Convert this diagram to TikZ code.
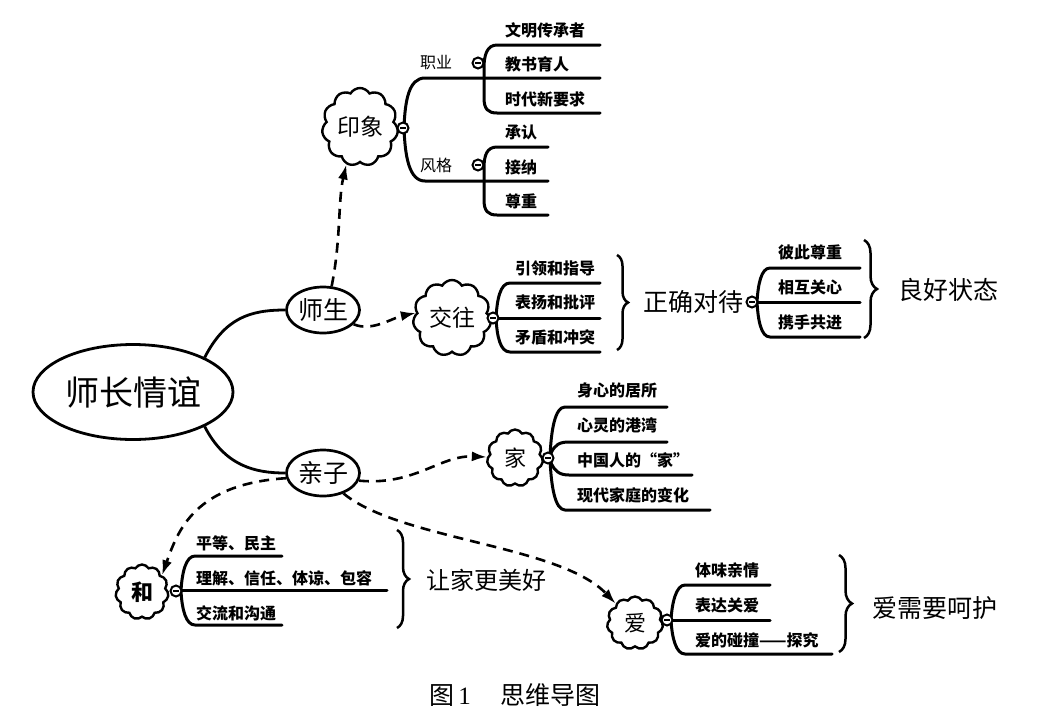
\documentclass[tikz,border=0pt]{standalone}
\usepackage{fontspec}
\setmainfont{Liberation Serif}
\newfontfamily\cjk{Noto Sans CJK SC}
\usetikzlibrary{shapes.geometric,shapes.symbols,decorations.pathreplacing,arrows.meta}
\newcommand\myfs[1]{\fontsize{#1}{#1}\selectfont}
\begin{document}
\begin{tikzpicture}[x=1pt,y=-1pt,
  br/.style={line width=3pt, line cap=round, line join=round},
  conn/.style={line width=2.8pt},
  dasharr/.style={line width=2.6pt, dash pattern=on 10pt off 7pt, -{Latex[length=15pt,width=10pt]}},
  mainell/.style={ellipse, draw, line width=2.8pt, minimum width=200pt, minimum height=95pt, inner sep=0pt, font=\cjk\myfs{34}},
  subell/.style={ellipse, draw, line width=2.7pt, minimum width=73pt, minimum height=46pt, inner sep=0pt, font=\cjk\myfs{25}},
  cloudn/.style={cloud, cloud puffs=11, cloud puff arc=120, aspect=1, draw, line width=2.4pt, inner sep=0pt, fill=white},
  mk/.style={circle, draw, line width=2pt, minimum size=11pt, inner sep=0pt, fill=white,
    path picture={\draw[line width=1.5pt] ([xshift=-2.6pt]path picture bounding box.center) -- ([xshift=2.6pt]path picture bounding box.center);}},
  leaf/.style={anchor=west, inner sep=0pt, font=\cjk\bfseries\myfs{16}},
  lab/.style={inner sep=0pt, font=\cjk\myfs{16}},
  big/.style={inner sep=0pt, font=\cjk\myfs{25}},
  brc/.style={line width=2.5pt, decorate, decoration={brace, amplitude=#1}}
]
\useasboundingbox (0,0) rectangle (1044,715);

% ---------- main nodes ----------
\node[mainell] (root) at (133,392) {师长情谊};
\node[subell] (ss) at (323,310) {师生};
\node[subell] (qz) at (323,473) {亲子};
\draw[conn] (root.north east) .. controls (225,318) and (250,310) .. (ss.west);
\draw[conn] (root.south east) .. controls (225,466) and (255,473) .. (qz.west);

% ---------- 印象 ----------
\node[cloudn, minimum width=76pt, minimum height=78pt, font=\cjk\myfs{23}] (yx) at (360,127) {印象};
\draw[br] (600,78) -- (425,78) .. controls (409,78) and (405,100) .. (404,128) .. controls (405,156) and (409,181) .. (425,181) -- (548,181);
% 职业
\draw[br] (600,45) -- (497,45) .. controls (487,45) and (484,55) .. (484,68) -- (484,98) .. controls (484,109) and (488,113) .. (497,113) -- (600,113);
\node[lab] (zy) at (436,63) {职业};
\node[mk] (mzy) at (478,63) {};
\node[leaf] (a1) at (505,30) {文明传承者};
\node[leaf] (a2) at (505,64) {教书育人};
\node[leaf] (a3) at (505,99) {时代新要求};
% 风格
\draw[br] (548,147) -- (497,147) .. controls (487,147) and (484,155) .. (484,168) -- (484,200) .. controls (484,211) and (488,215) .. (497,215) -- (548,215);
\node[lab] (fg) at (436,165) {风格};
\node[mk] (mfg) at (478,165) {};
\node[leaf] (b1) at (505,132) {承认};
\node[leaf] (b2) at (505,167) {接纳};
\node[leaf] (b3) at (505,201) {尊重};
\node[mk] (myx) at (403,128) {};

% ---------- 交往 ----------
\node[cloudn, minimum width=78pt, minimum height=76pt, font=\cjk\myfs{23}] (jw) at (452,318) {交往};
\draw[br] (600,283) -- (510,283) .. controls (500,283) and (497,300) .. (496,318) .. controls (497,336) and (500,352) .. (510,352) -- (600,352);
\draw[br] (493,318) -- (600,318);
\node[mk] (mjw) at (493,318) {};
\node[leaf] (c1) at (515,268) {引领和指导};
\node[leaf] (c2) at (515,302) {表扬和批评};
\node[leaf] (c3) at (515,337) {矛盾和冲突};
\draw[brc=11pt] (617,255) -- (617,350);
\node[big] (zq) at (693,302) {正确对待};
\draw[br] (860,268) -- (770,268) .. controls (761,268) and (758,285) .. (757,302) .. controls (758,320) and (761,337) .. (770,337) -- (860,337);
\draw[br] (752,302) -- (860,302);
\node[mk] (mzq) at (752,302) {};
\node[leaf] (d1) at (778,252) {彼此尊重};
\node[leaf] (d2) at (778,287) {相互关心};
\node[leaf] (d3) at (778,322) {携手共进};
\draw[brc=13pt] (864,240) -- (864,338);
\node[big] (lh) at (948,290) {良好状态};

% ---------- 家 ----------
\node[cloudn, minimum width=56pt, minimum height=57pt, font=\cjk\myfs{22}] (jia) at (515,458) {家};
\draw[br] (667,407) -- (565,407) .. controls (555,407) and (551,430) .. (550,458) .. controls (551,486) and (555,510) .. (565,510) -- (710,510);
\draw[br] (551,453) .. controls (555,445) and (559,442) .. (569,442) -- (667,442);
\draw[br] (551,463) .. controls (555,471) and (559,475) .. (569,475) -- (692,475);
\node[mk] (mjia) at (548,458) {};
\node[leaf] (e1) at (577,390) {身心的居所};
\node[leaf] (e2) at (577,425) {心灵的港湾};
\node[leaf] (e3) at (577,460) {中国人的“家”};
\node[leaf] (e4) at (577,495) {现代家庭的变化};

% ---------- 和 ----------
\node[cloudn, minimum width=53pt, minimum height=55pt, font=\cjk\bfseries\myfs{22}] (he) at (142,592) {和};
\draw[br] (282,556) -- (195,556) .. controls (186,556) and (182,572) .. (181,591) .. controls (182,610) and (186,625) .. (195,625) -- (282,625);
\draw[br] (176,590) -- (387,590);
\node[mk] (mhe) at (176,591) {};
\node[leaf] (f1) at (196,543) {平等、民主};
\node[leaf] (f2) at (196,578) {理解、信任、体谅、包容};
\node[leaf] (f3) at (196,613) {交流和沟通};
\draw[brc=12pt] (397,530) -- (397,628);
\node[big, font=\cjk\myfs{24}] (rj) at (486,580) {让家更美好};

% ---------- 爱 ----------
\node[cloudn, minimum width=56pt, minimum height=53pt, font=\cjk\myfs{22}] (ai) at (635,623) {爱};
\draw[br] (770,585) -- (685,585) .. controls (676,585) and (672,603) .. (671,620) .. controls (672,638) and (676,654) .. (685,654) -- (832,654);
\draw[br] (667,620) -- (770,620);
\node[mk] (mai) at (667,620) {};
\node[leaf] (g1) at (695,570) {体味亲情};
\node[leaf] (g2) at (695,605) {表达关爱};
\node[leaf] (g3) at (695,640) {爱的碰撞——探究};
\draw[brc=13pt] (839,555) -- (839,652);
\node[big] (ah) at (935,608) {爱需要呵护};

% ---------- dashed arrows ----------
\draw[dasharr] (ss.70) .. controls (341,240) and (338,200) .. (yx.250);
\draw[dasharr] (ss.-25) .. controls (372,332) and (392,318) .. (jw.172);
\draw[dasharr] (qz.-12) .. controls (415,486) and (440,455) .. (jia.178);
\draw[dasharr] (qz.188) .. controls (195,484) and (178,530) .. (he.40);
\draw[dasharr] (qz.-45) .. controls (400,540) and (560,545) .. (ai.135);

% ---------- caption ----------
\node[inner sep=0pt, font=\cjk\myfs{25}] (cap) at (515,695) {图\,{\rmfamily 1}\hspace{1.2em}思维导图};
\end{tikzpicture}
\end{document}
